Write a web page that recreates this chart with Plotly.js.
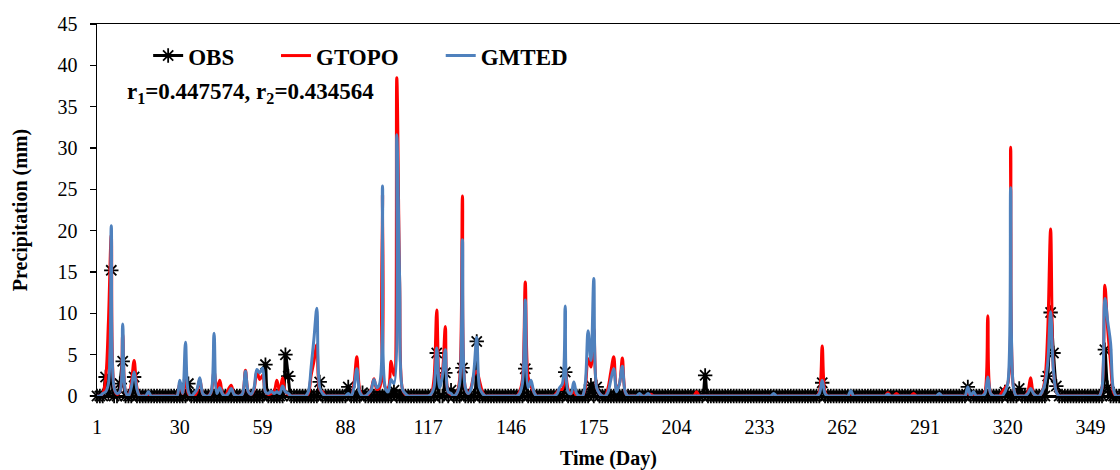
<!DOCTYPE html>
<html>
<head>
<meta charset="utf-8">
<script src="https://cdn.plot.ly/plotly-3.0.1.min.js"></script>
<style>
html,body{margin:0;padding:0;background:#fff;}
#chart{width:1120px;height:470px;}
</style>
</head>
<body>
<div id="chart"></div>
<script>
// Day index (categories 1..365)
const days = [];
for (let d = 1; d <= 365; d++) days.push(d);

const tickVals = [1, 30, 59, 88, 117, 146, 175, 204, 233, 262, 291, 320, 349];
const tickText = ["1", "30", "59", "88", "117", "146", "175", "204", "233", "262", "291", "320", "349"];

// Observed precipitation (mm), one value per day
const obs = [
  0,0,0,2.3,0.3,15.2,0,0,1.5,4.2,
  0,0,0,2.3,0,0,0,0,0,0,
  0,0,0,0,0,0,0,0,0,0,
  0,0,1.5,0,0,0,0,0,0,0,
  0,0,0,0,0,0,0,0,0,0,
  0,0,0,0,0,0,0,0,0,3.8,
  0,0,0,0,0,0,5.0,2.4,0,0,
  0,0,0,0,0,0,0,0,1.7,0,
  0,0,0,0,0,0,0,0,1.1,0,
  0,0,0,0.4,0,0,0,0,0,0,
  0,0,0,0,0.7,0,0,0,0,0,
  0,0,0,0,0,0,0,0,0,5.2,
  0,0,2.8,0,0.7,0,0,0,3.4,0,
  0,0,0,6.6,0,0,0,0,0,0,
  0,0,0,0,0,0,0,0,0,0,
  3.3,0,0,0,0,0,0,0,0,0,
  0,0,0,0,2.9,0,0,0,0,0,
  0,0,0,1.3,0,1.1,0,0,0,0,
  0,0,0,0,0,0,0,0,0,0,
  0,0,0,0,0,0,0,0,0,0,
  0,0,0,0,0,0,0,0,0,0,
  0,0,0,2.5,0,0,0,0,0,0,
  0,0,0,0,0,0,0,0,0,0,
  0,0,0,0,0,0,0,0,0,0,
  0,0,0,0,0,0,0,0,0,0,
  0,0,0,0,1.6,0,0,0,0,0,
  0,0,0,0,0,0,0,0,0,0,
  0,0,0,0,0,0,0,0,0,0,
  0,0,0,0,0,0,0,0,0,0,
  0,0,0,0,0,0,0,0,0,0,
  0,0,0,0,0,1.1,0,0,0,0,
  0,0,0,0,0,0,0,0,0.5,0,
  0,0,0,0.9,0,0,0,0,0,0,
  0,0,0,2.4,10.1,5.2,1.2,0,0,0,
  0,0,0,0,0,0,0,0,0,0,
  0,0,0,5.6,1.0,0,0,0,0,0,
  0,0,0,0,0
];

// GTOPO simulation (mm)
const gtopo = [
  0,0,0.3,2.0,9.0,19.5,1.0,0.2,0.5,7.5,
  0.5,0,1.5,4.3,1.0,0,0,0,0.2,0,
  0,0,0,0,0,0,0,0,0,1.5,
  0.3,2.0,0.3,0,0,0.5,2.0,0.3,0,0,
  0.5,3.0,0.8,1.9,0.3,0,0.8,1.3,0.2,0,
  0,0.3,3.1,0.5,0.2,0.8,3.0,2.0,2.5,0.5,
  0.2,0.3,0.5,1.9,0.5,2.2,0.5,0.2,0,0,
  0,0,0,0,0.3,2.5,4.2,6.2,0.8,0.5,
  0,0,0,0,0,0,0,0,0,0,
  1.5,4.75,0.8,0,0,0.2,0.8,2.1,0.8,1.0,
  24.5,1.0,1.0,4.2,2.5,38.5,13.8,0.8,0.2,0,
  0,0,0,0,0,0,0,0.2,2.0,10.4,
  1.5,3.0,8.4,0.5,0.2,0,0.3,2.0,24.2,1.0,
  0.3,1.0,2.5,3.0,1.8,0.5,0,0,0,0,
  0,0,0,0,0,0,0,0,0.5,2.0,
  13.8,2.3,1.2,0.5,0,0,0,0,0,0,
  0,0.4,0.8,0.8,3.1,0.8,0.3,0.5,0,0,
  0,1.0,4.5,3.5,8.2,1.0,0.3,0,0,1.0,
  3.0,4.75,0.8,1.5,4.6,0.5,0,0,0,0,
  0,0,0,0,0.2,0,0,0,0,0,
  0,0,0,0,0,0,0,0,0,0,
  0.5,0,0,0,0,0,0,0,0,0,
  0,0,0,0,0,0,0,0,0,0,
  0,0,0,0,0,0,0,0,0,0,
  0,0,0,0,0,0,0,0,0,0,
  0,0,0,0.5,6.05,0.5,0,0,0,0,
  0,0,0,0,0.3,0,0,0,0,0,
  0,0,0,0,0,0,0,0.4,0,0,
  0.3,0,0,0,0,0,0.3,0,0,0,
  0,0,0,0,0,0.2,0,0,0,0,
  0,0,0,0,0,0.5,0,0,0,0,
  0,0.5,9.7,0.3,0,0,0,0.5,1.0,1.5,
  30.1,1.0,0,0,0,0,0.5,2.2,0.3,0,
  0,0.5,2.0,8.0,20.2,3.0,0.5,0,0,0,
  0,0,0,0,0,0,0,0,0,0,
  0,0,1.0,13.4,8.0,4.0,0.5,0,0,0,
  0,0,0,0,0
];

// GMTED simulation (mm)
const gmted = [
  0,0,0.3,0.5,1.5,20.6,1.0,0.3,0.5,8.7,
  0.5,0,1.0,2.9,0.8,0,0,0,0.5,0,
  0,0,0,0,0,0,0,0,0,1.9,
  0.3,6.5,0.5,0,0.3,0.8,2.2,0.3,0,0,
  0.5,7.6,0.3,1.0,0.2,0,0.3,0.9,0.2,0,
  0,0.3,3.0,0.5,0.2,1.0,3.2,2.8,3.4,0.5,
  0.3,0.6,0.3,0.5,0.3,1.2,0.5,0.3,0,0,
  0,0,0,0,0.5,3.5,7.0,10.6,1.0,0.3,
  0,0,0,0,0,0,0,0,0.3,0,
  1.0,3.3,0.5,0,0,0.3,0.7,2.0,1.0,1.5,
  25.4,1.0,0.5,2.0,1.5,31.6,14.0,0.8,0.3,0,
  0,0,0,0,0,0,0,0.2,1.0,5.8,
  1.0,2.5,5.6,0.5,0.3,0,0.3,1.5,18.9,1.0,
  0.3,0.8,3.0,7.1,1.0,0.3,0,0,0,0,
  0,0,0,0,0,0,0,0,0.3,1.5,
  11.6,1.0,1.9,0.5,0,0,0,0,0,0,
  0,0.2,1.0,1.5,10.9,0.5,0.3,1.7,0.3,0,
  0,1.5,7.9,4.3,14.2,1.0,0.3,0,0,0.5,
  2.0,3.3,0.5,1.5,3.6,0.5,0,0,0,0,
  0.3,0,0,0.3,0,0,0,0,0,0,
  0,0,0,0,0,0,0,0,0,0,
  0,0,0,0,0,0,0,0,0,0,
  0,0,0,0,0,0,0,0,0,0,
  0,0,0,0,0,0,0,0.3,0,0,
  0,0,0,0,0,0,0,0,0,0,
  0,0,0,0.3,1.9,0.3,0,0,0,0,
  0,0,0,0,0.65,0,0,0,0,0,
  0,0,0,0,0,0,0,0.2,0,0,
  0,0,0,0,0,0,0,0,0,0,
  0,0,0,0,0,0.3,0,0,0,0,
  0,0,0,0,0,1.1,0,0.5,0,0,
  0,0.3,2.3,0.3,0,0,0,0,0.5,1.5,
  25.2,1.0,0,0,0,0,0.3,0.9,0.3,0,
  0,0.5,1.5,4.0,10.2,3.0,0.5,0,0,0,
  0,0,0,0,0,0,0,0,0,0,
  0,0,1.0,11.8,9.0,6.4,0.8,0,0,0,
  0,0,0,0,0
];

const seriesNames = ["OBS", "GTOPO", "GMTED"];
const annotationText = "<b>r<sub>1</sub>=0.447574, r<sub>2</sub>=0.434564</b>";

const FONT = "Liberation Serif, 'Times New Roman', Times, serif";

const traces = [
  {
    x: days, y: obs, name: seriesNames[0], type: "scatter", mode: "lines+markers",
    line: {color: "#000000", width: 3, shape: "spline", smoothing: 1},
    marker: {symbol: "asterisk-open", size: 12, color: "#000000", line: {color: "#000000", width: 1.8}},
    cliponaxis: false, legend: "legend"
  },
  {
    x: days, y: gtopo, name: seriesNames[1], type: "scatter", mode: "lines",
    line: {color: "#FF0000", width: 3, shape: "spline", smoothing: 1},
    cliponaxis: false, legend: "legend2"
  },
  {
    x: days, y: gmted, name: seriesNames[2], type: "scatter", mode: "lines",
    line: {color: "#4F81BD", width: 3, shape: "spline", smoothing: 1},
    cliponaxis: false, legend: "legend3"
  }
];

const legendFont = {family: FONT, size: 23, color: "#000", weight: "bold"};
function legendAt(xPaper) {
  return {x: xPaper, xanchor: "left", y: 0.915, yanchor: "middle", orientation: "h",
          font: legendFont, bgcolor: "rgba(0,0,0,0)", borderwidth: 0};
}

const layout = {
  width: 1120, height: 470,
  margin: {l: 97, r: 0, t: 24, b: 74, pad: 0},
  paper_bgcolor: "#fff", plot_bgcolor: "#fff",
  font: {family: FONT, color: "#000", size: 20},
  xaxis: {
    range: [1, 359.3],
    tickmode: "array", tickvals: tickVals, ticktext: tickText,
    ticks: "", showgrid: false, zeroline: false,
    showline: true, linecolor: "#000", linewidth: 1.5, mirror: true,
    tickfont: {family: FONT, size: 20, color: "#000"},
    ticklabelstandoff: 12,
    title: {text: "<b>Time (Day)</b>", font: {family: FONT, size: 20, color: "#000"}, standoff: 16}
  },
  yaxis: {
    range: [0, 45], dtick: 5, tick0: 0,
    ticks: "outside", ticklen: 6, tickwidth: 1.5, tickcolor: "#000",
    showgrid: false, zeroline: false,
    showline: true, linecolor: "#000", linewidth: 1.5,
    tickfont: {family: FONT, size: 20, color: "#000"},
    ticklabelstandoff: 8,
    title: {text: "<b>Precipitation (mm)</b>", font: {family: FONT, size: 20, color: "#000"}, standoff: 24}
  },
  showlegend: true,
  legend: legendAt(0.050),
  legend2: legendAt(0.175),
  legend3: legendAt(0.336),
  annotations: [{
    text: annotationText, xref: "paper", yref: "paper",
    x: 0.027, xanchor: "left", y: 0.815, yanchor: "middle",
    showarrow: false, font: {family: FONT, size: 23, color: "#000"}
  }]
};

Plotly.newPlot("chart", traces, layout, {displayModeBar: false, staticPlot: true});
</script>
</body>
</html>
